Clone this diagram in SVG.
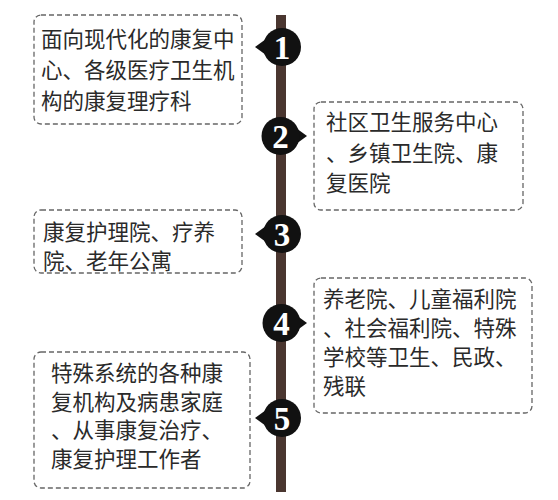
<svg xmlns="http://www.w3.org/2000/svg" width="558" height="500" viewBox="0 0 558 500">
<style>
.box{fill:#fff;stroke:#666;stroke-width:1.3;stroke-dasharray:5 3}
.t{font-family:"Noto Sans CJK SC","Noto Sans",sans-serif;font-size:21.5px;fill:#2a2a2a}
.mk{fill:#111}
.n{font-family:"Liberation Serif",serif;font-size:33px;font-weight:bold;fill:#fff;text-anchor:middle}
</style>
<rect width="558" height="500" fill="#fff"/>
<g id="connectors">
<rect x="276" y="15" width="10" height="477" fill="#4a3630"/>
</g>
<g id="node1">
<rect class="box" x="34" y="15" width="208" height="109" rx="7"/>
<text class="t" x="41" y="47">面向现代化的康复中</text>
<text class="t" x="41" y="78">心、各级医疗卫生机</text>
<text class="t" x="41" y="109">构的康复理疗科</text>
<path class="mk" d="M255 47 L266 39 L266 55 Z"/>
<circle class="mk" cx="282" cy="47" r="19"/>
<text class="n" x="282" y="59">1</text>
</g>
<g id="node2">
<rect class="box" x="314" y="102" width="209" height="108" rx="7"/>
<text class="t" x="326" y="130">社区卫生服务中心</text>
<text class="t" x="326" y="161">、乡镇卫生院、康</text>
<text class="t" x="326" y="191">复医院</text>
<path class="mk" d="M307 136 L296 128 L296 144 Z"/>
<circle class="mk" cx="280.5" cy="136" r="19"/>
<text class="n" x="280.5" y="148">2</text>
</g>
<g id="node3">
<rect class="box" x="34" y="210" width="208" height="63" rx="7"/>
<text class="t" x="43" y="240">康复护理院、疗养</text>
<text class="t" x="43" y="269">院、老年公寓</text>
<path class="mk" d="M255 234 L266 226 L266 242 Z"/>
<circle class="mk" cx="282" cy="234" r="19"/>
<text class="n" x="282" y="246">3</text>
</g>
<g id="node4">
<rect class="box" x="314" y="278" width="218" height="135" rx="7"/>
<text class="t" x="323" y="307">养老院、儿童福利院</text>
<text class="t" x="323" y="336">、社会福利院、特殊</text>
<text class="t" x="323" y="365">学校等卫生、民政、</text>
<text class="t" x="323" y="394">残联</text>
<path class="mk" d="M307 323 L296 315 L296 331 Z"/>
<circle class="mk" cx="281.5" cy="323" r="19"/>
<text class="n" x="281.5" y="335">4</text>
</g>
<g id="node5">
<rect class="box" x="34" y="352" width="216" height="136" rx="7"/>
<text class="t" x="51" y="381">特殊系统的各种康</text>
<text class="t" x="51" y="410">复机构及病患家庭</text>
<text class="t" x="51" y="438">、从事康复治疗、</text>
<text class="t" x="51" y="467">康复护理工作者</text>
<path class="mk" d="M255 418 L266 410 L266 426 Z"/>
<circle class="mk" cx="282" cy="418" r="19"/>
<text class="n" x="282" y="430">5</text>
</g>
</svg>
